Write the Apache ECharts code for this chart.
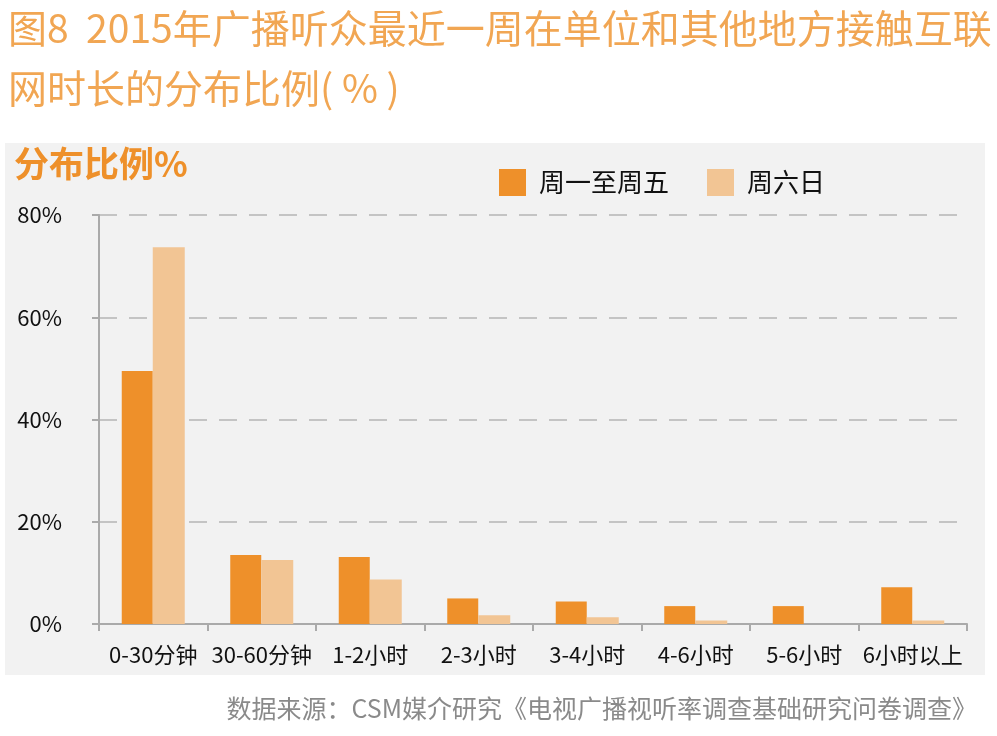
<!DOCTYPE html>
<html lang="zh">
<head>
    <meta charset="UTF-8">
    <title>图8</title>
    <script src="https://cdn.jsdelivr.net/npm/echarts@6/dist/echarts.min.js"></script>
    <style>
        html, body { margin: 0; padding: 0; background: #fff; }
        #main { width: 997px; height: 736px; }
    </style>
</head>
<body>
<div id="main"></div>
<script type="text/javascript">
    // 数据
    var categories = ['0-30分钟', '30-60分钟', '1-2小时', '2-3小时', '3-4小时', '4-6小时', '5-6小时', '6小时以上'];
    var weekdayValues = [49.5, 13.5, 13.1, 5.0, 4.4, 3.5, 3.5, 7.2];
    var weekendValues = [73.7, 12.5, 8.7, 1.7, 1.3, 0.7, 0, 0.7];
    var seriesNames = ['周一至周五', '周六日'];
    var yTicks = [0, 20, 40, 60, 80];

    var font = '"Noto Sans CJK SC", "Liberation Sans", sans-serif';
    var myChart = echarts.init(document.getElementById('main'));

    var option = {
        backgroundColor: '#ffffff',
        animation: false,
        textStyle: { fontFamily: font },
        graphic: [
            {
                type: 'rect', z: -10,
                shape: { x: 5, y: 143, width: 980, height: 532 },
                style: { fill: '#f2f2f2' }
            },
            {
                type: 'text', left: 8, top: 9,
                style: {
                    text: '图8  2015年广播听众最近一周在单位和其他地方接触互联',
                    fill: '#f1a653', font: '39px ' + font
                }
            },
            {
                type: 'text', left: 8, top: 69,
                style: {
                    text: '网时长的分布比例( % )',
                    fill: '#f1a653', font: '39px ' + font
                }
            },
            {
                type: 'text', left: 14, top: 146,
                style: {
                    text: '分布比例%',
                    fill: '#ee902a', font: 'bold 35px ' + font
                }
            },
            {
                type: 'text', right: 20, top: 696,
                style: {
                    text: '数据来源：CSM媒介研究《电视广播视听率调查基础研究问卷调查》',
                    fill: '#8a8a8a', font: '25px ' + font
                }
            }
        ],
        legend: {
            data: seriesNames,
            left: 494,
            top: 164,
            itemWidth: 27,
            itemHeight: 27,
            itemGap: 38,
            icon: 'rect',
            textStyle: { fontSize: 26, color: '#111', padding: [0, 0, 0, 8] }
        },
        grid: { left: 99, right: 30, top: 215, bottom: 112 },
        xAxis: {
            type: 'category',
            data: categories,
            axisLine: { lineStyle: { color: '#aaaaaa', width: 2 } },
            axisTick: { show: true, length: 7, lineStyle: { color: '#aaaaaa', width: 2 } },
            axisLabel: { fontSize: 22, color: '#111', margin: 20, interval: 0 }
        },
        yAxis: {
            type: 'value',
            min: yTicks[0],
            max: yTicks[yTicks.length - 1],
            interval: yTicks[1] - yTicks[0],
            axisLine: { show: true, lineStyle: { color: '#aaaaaa', width: 2 } },
            axisTick: { show: true, length: 7, lineStyle: { color: '#aaaaaa', width: 2 } },
            axisLabel: { formatter: '{value}%', fontSize: 22, color: '#111', margin: 37 },
            splitLine: { lineStyle: { color: '#b5b5b5', type: [18, 12], width: 1.5 } }
        },
        series: [
            {
                name: seriesNames[0],
                type: 'bar',
                data: weekdayValues,
                barWidth: 31,
                barGap: '0%',
                itemStyle: { color: '#ee902a' }
            },
            {
                name: seriesNames[1],
                type: 'bar',
                data: weekendValues,
                barWidth: 32,
                barGap: '0%',
                itemStyle: { color: '#f2c594' }
            }
        ]
    };
    myChart.setOption(option);
</script>
</body>
</html>
